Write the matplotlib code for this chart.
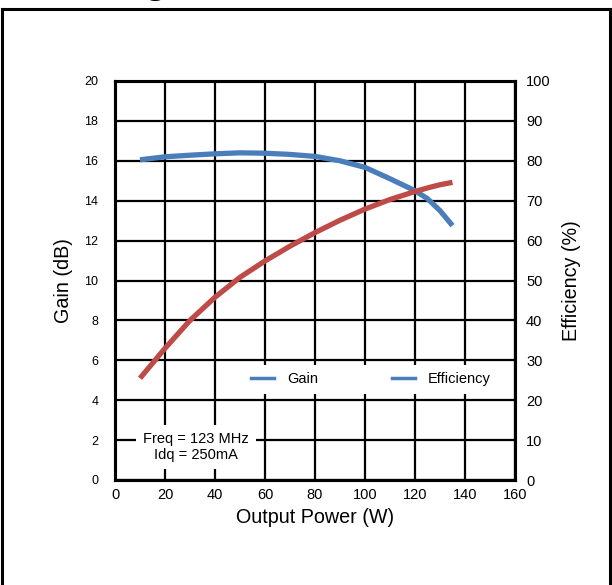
import matplotlib.pyplot as plt
from matplotlib.lines import Line2D

plt.rcParams['font.family'] = ['Liberation Sans', 'DejaVu Sans']

power = [10, 20, 30, 40, 50, 60, 70, 80, 90, 100, 110, 120, 125, 130, 135]
gain = [16.05, 16.2, 16.28, 16.35, 16.4, 16.38, 16.32, 16.22, 16.0, 15.67,
        15.1, 14.5, 14.1, 13.5, 12.75]
eff = [25.5, 33, 40, 45.8, 50.8, 54.9, 58.6, 62, 65.1, 67.9, 70.3, 72.3,
       73.2, 74, 74.6]

gain_ticks = list(range(0, 21, 2))
eff_ticks = list(range(0, 101, 10))
x_ticks = list(range(0, 161, 20))

blue = '#4A7EBB'
red = '#BE4B48'

fig = plt.figure(figsize=(6.12, 5.85), dpi=100)
ax1 = fig.add_axes([115 / 612, 1 - 480 / 585, 400 / 612, 399 / 585])
ax2 = ax1.twinx()

ax1.plot(power, gain, color=blue, lw=3.8, solid_capstyle='butt', zorder=3)
ax2.plot(power, eff, color=red, lw=3.8, solid_capstyle='butt', zorder=3)

ax1.set_xlim(0, 160)
ax1.set_ylim(0, 20)
ax2.set_ylim(0, 100)
ax1.set_xticks(x_ticks)
ax1.set_yticks(gain_ticks)
ax2.set_yticks(eff_ticks)

ax1.grid(True, color='black', lw=1.6)
ax1.set_axisbelow(True)
for a in (ax1, ax2):
    for s in a.spines.values():
        s.set_linewidth(2.2)
ax1.tick_params(axis='y', length=0, labelsize=9, pad=12)
ax1.tick_params(axis='x', length=0, labelsize=10.5, pad=6)
ax2.tick_params(axis='y', length=0, labelsize=10.5, pad=8)

ax1.set_xlabel('Output Power (W)', fontsize=14.2, labelpad=4)
ax1.set_ylabel('Gain (dB)', fontsize=14.2, labelpad=8)
ax2.set_ylabel('Efficiency (%)', fontsize=14.2, labelpad=8)

ax1.text(32.4, 1.65, 'Freq = 123 MHz\nIdq = 250mA', ha='center', va='center',
         fontsize=10.5, linespacing=1.2,
         bbox=dict(facecolor='white', edgecolor='none', pad=5), zorder=4)

handles = [Line2D([], [], color=blue, lw=2.5), Line2D([], [], color=blue, lw=2.5)]
leg = ax2.legend(handles, ['Gain', 'Efficiency'], loc='center',
                 bbox_to_anchor=(0.64, 0.2525), ncol=2, fontsize=10.5,
                 frameon=True, fancybox=False, edgecolor='none', framealpha=1,
                 handlelength=1.6, handletextpad=0.9, columnspacing=5,
                 borderpad=0.5)

# outer frame (no bottom edge) and cut-off title glyph
for xs, ys in [([0.003, 0.003], [0, 0.984]), ([0.003, 0.997], [0.984, 0.984]),
               ([0.997, 0.997], [0.984, 0])]:
    fig.add_artist(Line2D(xs, ys, color='black', lw=2.2, transform=fig.transFigure))
fig.text(0.232, 1.013, 'g', fontsize=30, fontweight='bold', va='baseline')

fig.savefig('out.png', dpi=100)
